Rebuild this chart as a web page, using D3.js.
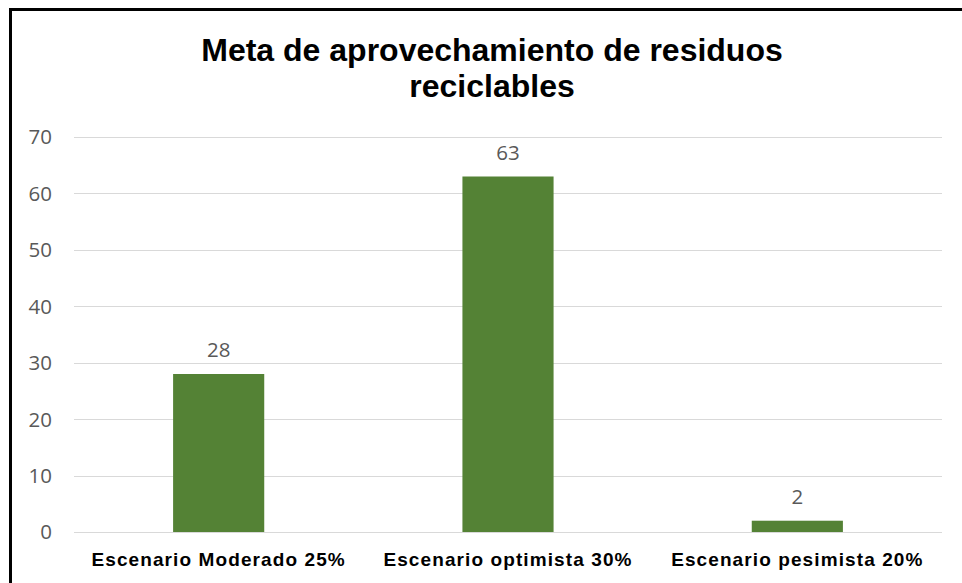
<!DOCTYPE html>
<html>
<head>
<meta charset="utf-8">
<script src="https://cdn.jsdelivr.net/npm/d3@7"></script>
<style>
  body { margin: 0; background: #fff; }
  svg { display: block; }
</style>
</head>
<body>
<div id="chart"></div>
<script>
// chart data
const categories = ['Escenario Moderado 25%', 'Escenario optimista 30%', 'Escenario pesimista 20%'];
const values = [28, 63, 2];
const yTicks = [0, 10, 20, 30, 40, 50, 60, 70];
const titleLines = ['Meta de aprovechamiento de residuos', 'reciclables'];

const width = 962, height = 583;

const svg = d3.select('#chart')
    .append('svg')
    .attr('width', width)
    .attr('height', height);

// outer frame (right and bottom edges fall outside the picture)
svg.append('rect')
    .attr('x', 10.5)
    .attr('y', 9.5)
    .attr('width', 980)
    .attr('height', 600)
    .attr('fill', '#fff')
    .attr('stroke', '#000')
    .attr('stroke-width', 3);

// title
svg.append('text')
    .attr('x', 492)
    .attr('text-anchor', 'middle')
    .attr('font-family', 'Liberation Sans, Arial, sans-serif')
    .attr('font-weight', 'bold')
    .attr('font-size', 32)
    .attr('fill', '#000')
    .selectAll('tspan')
    .data(titleLines)
    .enter()
    .append('tspan')
    .attr('x', 492)
    .attr('y', (d, i) => 61 + i * 36)
    .text(d => d);

const plot = { left: 74, right: 942, top: 137, bottom: 532 };

const x = d3.scaleBand()
    .domain(categories)
    .range([plot.left, plot.right])
    .paddingInner(0.685)
    .paddingOuter(0.3425);

const y = d3.scaleLinear()
    .domain([0, 70])
    .range([plot.bottom, plot.top]);

// gridlines
svg.append('g')
    .selectAll('line')
    .data(yTicks)
    .enter()
    .append('line')
    .attr('x1', plot.left)
    .attr('x2', plot.right)
    .attr('y1', d => Math.round(y(d)) + 0.5)
    .attr('y2', d => Math.round(y(d)) + 0.5)
    .attr('stroke', '#d9d9d9')
    .attr('stroke-width', 1);

// y tick labels
svg.append('g')
    .selectAll('text')
    .data(yTicks)
    .enter()
    .append('text')
    .attr('x', 52)
    .attr('y', d => y(d))
    .attr('dy', '0.36em')
    .attr('text-anchor', 'end')
    .attr('font-family', 'Open Sans, Liberation Sans, sans-serif')
    .attr('font-size', 20.5)
    .attr('fill', '#595959')
    .text(d => d);

// bars
svg.append('g')
    .selectAll('rect')
    .data(values)
    .enter()
    .append('rect')
    .attr('x', (d, i) => x(categories[i]))
    .attr('y', d => y(d))
    .attr('width', x.bandwidth())
    .attr('height', d => y(0) - y(d))
    .attr('fill', '#548235');

// value labels
svg.append('g')
    .selectAll('text')
    .data(values)
    .enter()
    .append('text')
    .attr('x', (d, i) => x(categories[i]) + x.bandwidth() / 2)
    .attr('y', d => y(d) - 17)
    .attr('text-anchor', 'middle')
    .attr('font-family', 'Open Sans, Liberation Sans, sans-serif')
    .attr('font-size', 20.5)
    .attr('fill', '#595959')
    .text(d => d);

// category labels
svg.append('g')
    .selectAll('text')
    .data(categories)
    .enter()
    .append('text')
    .attr('x', d => x(d) + x.bandwidth() / 2)
    .attr('y', 566)
    .attr('text-anchor', 'middle')
    .attr('font-family', 'Liberation Sans, Arial, sans-serif')
    .attr('font-weight', 'bold')
    .attr('font-size', 19)
    .attr('letter-spacing', 1.1)
    .attr('fill', '#000')
    .text(d => d);
</script>
</body>
</html>
